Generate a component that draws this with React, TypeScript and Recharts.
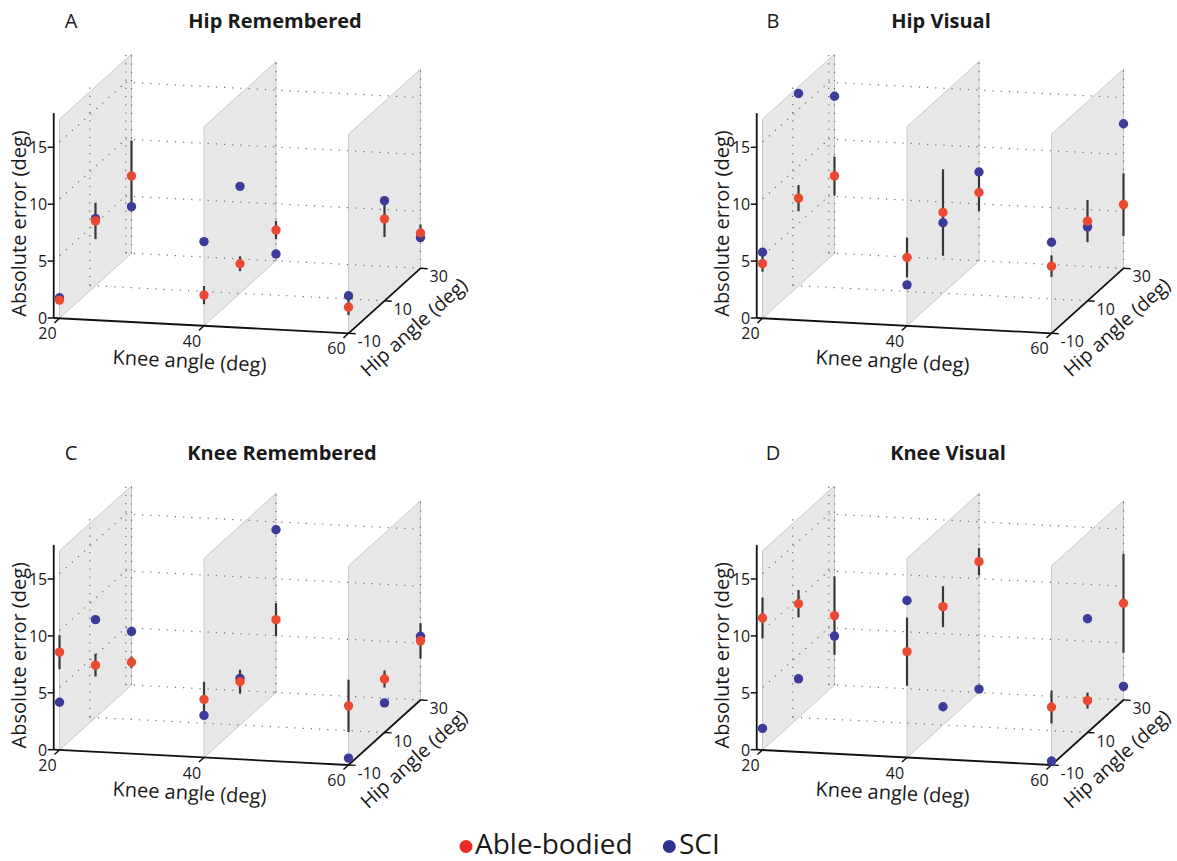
import { Area, ComposedChart, ErrorBar, ReferenceLine, Scatter, XAxis, YAxis } from 'recharts'

const FONT = '"Open Sans", sans-serif'
const W = 1177
const H = 861

const kneeAngles = [20, 40, 60]
const hipAngles = [-10, 10, 30]
const errorTicks = [0, 5, 10, 15]

// values per cell, order: knee 20 (hip -10, 10, 30), knee 40 (...), knee 60 (...)
const hipRememberedAble = [1.6, 5.7, 6.8, 2.7, 2.6, 2.7, 2.3, 7.2, 3.1]
const hipRememberedSci = [1.8, 5.9, 4.1, 7.4, 9.4, 0.6, 3.3, 8.8, 2.7]
const hipRememberedSE = [0.3, 1.6, 3.1, 0.8, 0.65, 0.8, 0.7, 1.6, 0.75]

const hipVisualAble = [4.8, 7.7, 6.8, 6.0, 7.1, 6.0, 5.9, 7.0, 5.6]
const hipVisualSci = [5.8, 16.9, 13.8, 3.6, 6.2, 7.8, 8.0, 6.5, 12.7]
const hipVisualSE = [0.7, 1.15, 1.7, 1.75, 3.8, 1.65, 0.95, 1.85, 2.75]

const kneeRememberedAble = [8.6, 4.6, 2.0, 5.1, 3.8, 6.4, 5.2, 4.7, 5.2]
const kneeRememberedSci = [4.2, 8.6, 4.7, 3.7, 4.1, 14.3, 0.6, 2.6, 5.6]
const kneeRememberedSE = [1.5, 1.0, 0.5, 1.55, 1.05, 1.45, 2.3, 0.75, 1.55]

const kneeVisualAble = [11.6, 10.0, 6.1, 9.3, 10.4, 11.5, 5.1, 2.8, 8.5]
const kneeVisualSci = [1.9, 3.4, 4.3, 13.8, 1.6, 0.3, 0.35, 10.0, 1.2]
const kneeVisualSE = [1.8, 1.2, 3.45, 3.0, 1.8, 1.2, 1.45, 0.7, 4.35]

const RED = '#ea4a32'
const BLUE = '#3c3b9c'

// projection of the 3-D box (knee, hip, error) onto the page
const KNEE_MIN = 19.2
const Z_MAX = 18
const PLANE_TOP = 17.5
const KX = 7.225
const KY = 0.375
const HX = 1.8
const HY = -1.625
const ZS = 11.38

type Panel = {
  letter: string
  title: string
  able: number[]
  sci: number[]
  se: number[]
  ox: number
  oy: number
  letterX: number
  titleX: number
}

const panels: Panel[] = [
  { letter: 'A', title: 'Hip Remembered', able: hipRememberedAble, sci: hipRememberedSci, se: hipRememberedSE,
    ox: 59.5, oy: 318.3, letterX: 71, titleX: 275 },
  { letter: 'B', title: 'Hip Visual', able: hipVisualAble, sci: hipVisualSci, se: hipVisualSE,
    ox: 762.5, oy: 318.3, letterX: 773, titleX: 941 },
  { letter: 'C', title: 'Knee Remembered', able: kneeRememberedAble, sci: kneeRememberedSci, se: kneeRememberedSE,
    ox: 59.5, oy: 750, letterX: 71, titleX: 282 },
  { letter: 'D', title: 'Knee Visual', able: kneeVisualAble, sci: kneeVisualSci, se: kneeVisualSE,
    ox: 762.5, oy: 750, letterX: 773, titleX: 948 },
]

const cells = kneeAngles.flatMap((k) => hipAngles.map((h) => ({ k, h })))

function proj(p: Panel, knee: number, hip: number, z: number) {
  return {
    x: p.ox + KX * (knee - 20) + HX * (hip + 10),
    y: p.oy + KY * (knee - 20) + HY * (hip + 10) - ZS * z,
  }
}

type Pt = { x: number; y: number }
const shift = (a: Pt, dx: number, dy: number) => ({ x: a.x + dx, y: a.y + dy })

const TextMark = (props: any) => {
  const { cx, cy, payload } = props
  return (
    <text
      x={cx}
      y={cy}
      textAnchor={payload.anchor}
      dominantBaseline="central"
      fontSize={payload.size}
      fontWeight={payload.weight}
      fontFamily={FONT}
      fill="#1a1a1a"
      transform={payload.rotate ? `rotate(${payload.rotate} ${cx} ${cy})` : undefined}
    >
      {payload.text}
    </text>
  )
}

const dotShape = (color: string, r: number) => (props: any) => (
  <circle cx={props.cx} cy={props.cy} r={r} fill={color} />
)

const noShape = () => <g />

function segment(key: string, a: Pt, b: Pt, stroke: string, width: number, dash?: string) {
  return (
    <ReferenceLine
      key={key}
      segment={[a, b]}
      stroke={stroke}
      strokeWidth={width}
      strokeDasharray={dash}
      ifOverflow="visible"
    />
  )
}

export default function App() {
  const planes: any[] = []
  const lines: any[] = []
  const bars: any[] = []
  const sciDots: any[] = []
  const ableDots: any[] = []
  const labels: any[] = []

  const kneeRot = (Math.atan2(KY, KX) * 180) / Math.PI
  const hipRot = (Math.atan2(HY, HX) * 180) / Math.PI

  panels.forEach((p, pi) => {
    // grey planes at each knee angle
    kneeAngles.forEach((k, ki) => {
      const f0 = proj(p, k, -10, 0)
      const f1 = proj(p, k, -10, PLANE_TOP)
      const b0 = proj(p, k, 30, 0)
      const b1 = proj(p, k, 30, PLANE_TOP)
      planes.push(
        <Area
          key={`plane-${pi}-${ki}`}
          data={[
            { x: f0.x, r: [f0.y, f1.y] },
            { x: b0.x, r: [b0.y, b1.y] },
          ]}
          dataKey="r"
          type="linear"
          fill="#e7e7e7"
          fillOpacity={1}
          stroke="none"
          isAnimationActive={false}
          legendType="none"
        />
      )
      const edge = '#c9c9c9'
      lines.push(segment(`pe1-${pi}-${ki}`, f0, f1, edge, 1))
      lines.push(segment(`pe2-${pi}-${ki}`, b0, b1, edge, 1))
      lines.push(segment(`pe3-${pi}-${ki}`, f1, b1, edge, 1))
      lines.push(segment(`pe4-${pi}-${ki}`, f0, b0, edge, 1))
    })

    // dotted grid on the back wall, left wall and floor
    const grid: [Pt, Pt][] = [
      ...errorTicks.map((z) => [proj(p, KNEE_MIN, 30, z), proj(p, 60, 30, z)] as [Pt, Pt]),
      ...kneeAngles.map((k) => [proj(p, k, 30, 0), proj(p, k, 30, Z_MAX)] as [Pt, Pt]),
      ...errorTicks.slice(1).map((z) => [proj(p, KNEE_MIN, -10, z), proj(p, KNEE_MIN, 30, z)] as [Pt, Pt]),
      ...hipAngles.slice(1).map((h) => [proj(p, KNEE_MIN, h, 0), proj(p, KNEE_MIN, h, Z_MAX)] as [Pt, Pt]),
      [proj(p, KNEE_MIN, 10, 0), proj(p, 60, 10, 0)],
    ]
    grid.forEach(([a, b], gi) => lines.push(segment(`g-${pi}-${gi}`, a, b, '#6a6a6a', 1.2, '1.2 7')))

    // axes
    const axis = '#111'
    const origin = proj(p, KNEE_MIN, -10, 0)
    lines.push(segment(`za-${pi}`, origin, proj(p, KNEE_MIN, -10, Z_MAX), axis, 1.8))
    lines.push(segment(`ka-${pi}`, origin, proj(p, 60, -10, 0), axis, 1.8))
    lines.push(segment(`ha-${pi}`, proj(p, 60, -10, 0), proj(p, 60, 30, 0), axis, 1.8))
    errorTicks.forEach((z) => {
      const a = proj(p, KNEE_MIN, -10, z)
      lines.push(segment(`zt-${pi}-${z}`, a, shift(a, -6, 0), axis, 1.5))
      labels.push({ ...shift(a, -6.5, 0), text: String(z), anchor: 'end', size: 16 })
    })
    kneeAngles.forEach((k) => {
      const a = proj(p, k, -10, 0)
      lines.push(segment(`kt-${pi}-${k}`, a, proj(p, k, -12.8, 0), axis, 1.5))
      labels.push({ ...shift(a, -12, 15), text: String(k), anchor: 'middle', size: 16 })
    })
    hipAngles.forEach((h) => {
      const a = proj(p, 60, h, 0)
      lines.push(segment(`ht-${pi}-${h}`, a, proj(p, 61, h, 0), axis, 1.5))
      labels.push({ ...shift(a, 9, 8), text: String(h), anchor: 'start', size: 16 })
    })

    labels.push({ x: origin.x - 35.5, y: proj(p, KNEE_MIN, -10, 8.3).y, text: 'Absolute error (deg)', anchor: 'middle', size: 20, rotate: -90 })
    labels.push({ ...shift(proj(p, 38, -10, 0), 0, 35.5), text: 'Knee angle (deg)', anchor: 'middle', size: 20, rotate: kneeRot })
    labels.push({ ...shift(proj(p, 60, 10, 0), 29, 26), text: 'Hip angle (deg)', anchor: 'middle', size: 19.5, rotate: hipRot })
    labels.push({ x: p.letterX, y: p.oy - 298, text: p.letter, anchor: 'middle', size: 20 })
    labels.push({ x: p.titleX, y: p.oy - 298, text: p.title, anchor: 'middle', size: 20, weight: 700 })

    const ableData = cells.map((c, i) => {
      const pt = proj(p, c.k, c.h, p.able[i])
      const e = p.se[i] * ZS
      return { ...pt, err: [e, e] }
    })
    const sciData = cells.map((c, i) => proj(p, c.k, c.h, p.sci[i]))

    bars.push(
      <Scatter key={`bars-${pi}`} data={ableData} shape={noShape} isAnimationActive={false} legendType="none">
        <ErrorBar dataKey="err" direction="y" width={0} stroke="#383838" strokeWidth={2.2} />
      </Scatter>
    )
    sciDots.push(
      <Scatter key={`sci-${pi}`} name="SCI" data={sciData} shape={dotShape(BLUE, 4.7)} isAnimationActive={false} legendType="none" />
    )
    ableDots.push(
      <Scatter key={`able-${pi}`} name="Able-bodied" data={ableData} shape={dotShape(RED, 4.7)} isAnimationActive={false} legendType="none" />
    )
  })

  // legend
  const legendDots = [
    { x: 466, y: 846.5, color: '#ed2a26' },
    { x: 669.3, y: 846.5, color: '#2e3192' },
  ]
  labels.push({ x: 475, y: 843, text: 'Able-bodied', anchor: 'start', size: 28 })
  labels.push({ x: 679, y: 843, text: 'SCI', anchor: 'start', size: 28 })

  return (
    <div style={{ width: W, height: H, background: '#fff' }}>
      <style>{'body{margin:0;background:#fff}'}</style>
      <ComposedChart width={W} height={H} margin={{ top: 0, right: 0, bottom: 0, left: 0 }}>
        <XAxis type="number" dataKey="x" domain={[0, W]} hide />
        <YAxis type="number" dataKey="y" domain={[0, H]} reversed hide />
        {planes}
        {lines}
        {bars}
        {sciDots}
        {ableDots}
        {legendDots.map((d, i) => (
          <Scatter key={`leg-${i}`} data={[d]} shape={dotShape(d.color, 6.5)} isAnimationActive={false} legendType="none" />
        ))}
        <Scatter data={labels} shape={TextMark} isAnimationActive={false} legendType="none" />
      </ComposedChart>
    </div>
  )
}
